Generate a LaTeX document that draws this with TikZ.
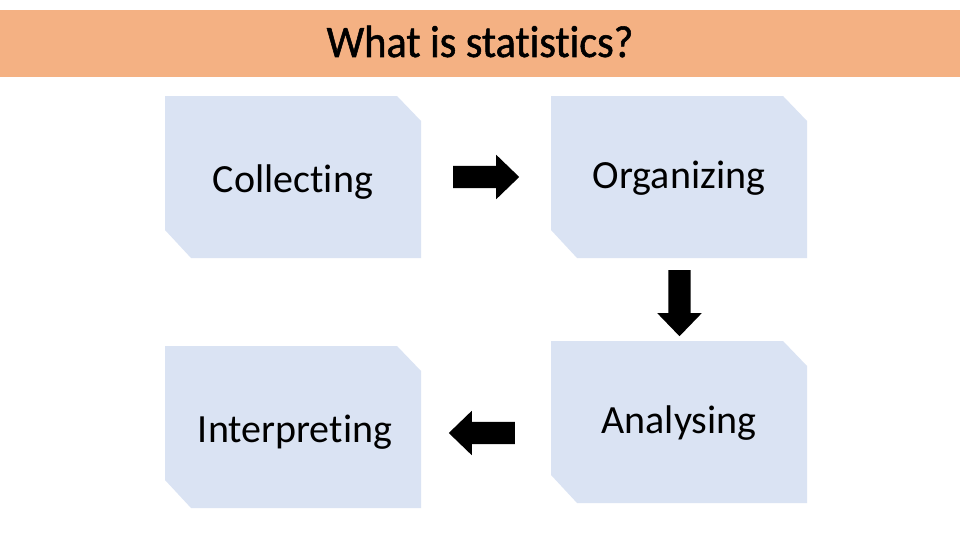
\documentclass[tikz,border=0pt]{standalone}
\usepackage{fontspec}
\setmainfont[Ligatures=NoCommon]{Carlito}
\newfontfamily\titlefont[FakeStretch=0.94,FakeBold=1.2,Ligatures=NoCommon]{Carlito}
\usetikzlibrary{shapes.arrows}
\definecolor{bandorange}{HTML}{F4B183}
\definecolor{boxblue}{HTML}{DAE3F3}
\begin{document}
\begin{tikzpicture}[x=1pt,y=-1pt,
  snipbox/.style={minimum width=256pt,minimum height=162pt,inner sep=0pt,anchor=north west,
    path picture={\fill[boxblue] (path picture bounding box.north west)
      -- ([xshift=-24pt]path picture bounding box.north east)
      -- ([yshift=-25pt]path picture bounding box.north east)
      -- (path picture bounding box.south east)
      -- ([xshift=26pt]path picture bounding box.south west)
      -- ([yshift=28pt]path picture bounding box.south west) -- cycle;}},
  boxlabel/.style={anchor=base,font=\fontsize{40}{48}\selectfont,inner sep=0pt},
  blockarrow/.style={single arrow,fill=black,draw=none,inner sep=11pt,
    single arrow head extend=11pt,minimum height=66pt,single arrow tip angle=88,anchor=tail}]
\useasboundingbox (0,0) rectangle (960,540);
\fill[white] (0,0) rectangle (960,540);
\fill[bandorange] (0,10) rectangle (960,77);
\node[anchor=base,inner sep=0pt,font=\titlefont\fontsize{45}{54}\selectfont] (title) at (480,57) {What is statistics?};

\node[snipbox] (b1) at (165,96) {};
\node[snipbox] (b2) at (551,96) {};
\node[snipbox] (b3) at (165,346) {};
\node[snipbox] (b4) at (551,341) {};

\node[boxlabel] (t1) at (293,192) {Collecting};
\node[boxlabel] (t2) at (679,189) {Organizing};
\node[boxlabel] (t3) at (295,442) {Interpreting};
\node[boxlabel] (t4) at (679,433) {Analysing};

\node[blockarrow] (a1) at (453,177) {};
\node[blockarrow,shape border rotate=270] (a2) at (679.5,270) {};
\node[blockarrow,shape border rotate=180] (a3) at (515,433) {};
\end{tikzpicture}
\end{document}
